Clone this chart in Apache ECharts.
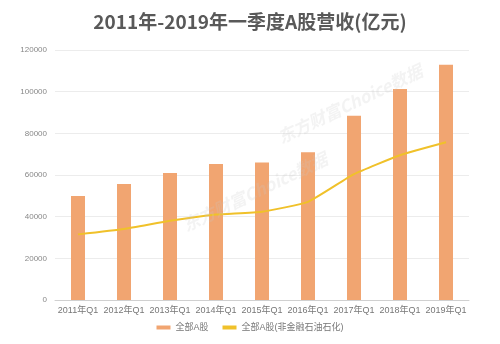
<!DOCTYPE html>
<html>
<head>
<meta charset="utf-8">
<script src="https://cdn.jsdelivr.net/npm/echarts@6/dist/echarts.min.js"></script>
<style>
html,body{margin:0;padding:0;background:#fff;}
#chart{width:500px;height:344px;}
</style>
</head>
<body>
<div id="chart"></div>
<script>
// Q1 operating revenue of A-share companies, 100 million yuan
const categories = ['2011年Q1','2012年Q1','2013年Q1','2014年Q1','2015年Q1','2016年Q1','2017年Q1','2018年Q1','2019年Q1'];
const allAShares = [49900, 55700, 61000, 65300, 66000, 70900, 88500, 101300, 112900];
const exFinancePetro = [31500, 34100, 38000, 41000, 42400, 47100, 60400, 69500, 75700];
const yTicks = [0, 20000, 40000, 60000, 80000, 100000, 120000];

const titleFont = '"Microsoft YaHei","Noto Sans CJK SC",sans-serif';
const labelFont = '"Liberation Sans","Noto Sans CJK SC",sans-serif';
const chart = echarts.init(document.getElementById('chart'));

const watermark = (left, top) => ({
  type: 'text', left, top, rotation: Math.PI / 7, z: 100, silent: true,
  style: { text: '东方财富Choice数据', fontFamily: titleFont, fontSize: 17, fontWeight: 'bold',
           fontStyle: 'italic', fill: 'rgba(200,200,200,0.22)' }
});

chart.setOption({
  backgroundColor: '#fff',
  animation: false,
  title: {
    text: '2011年-2019年一季度A股营收(亿元)',
    left: 'center',
    top: 7,
    textStyle: { fontFamily: titleFont, fontSize: 19, fontWeight: 'bold', color: '#595959' }
  },
  legend: {
    bottom: 7,
    left: 'center',
    itemGap: 14,
    itemWidth: 14,
    itemHeight: 4,
    textStyle: { fontFamily: labelFont, fontSize: 9, color: '#777' },
    data: [
      { name: '全部A股', icon: 'rect' },
      { name: '全部A股(非金融石油石化)', icon: 'rect', itemStyle: { color: '#f0c12a' } }
    ]
  },
  grid: { left: 55, right: 31, top: 50, bottom: 44 },
  xAxis: {
    type: 'category',
    data: categories,
    axisTick: { show: false },
    axisLine: { lineStyle: { color: '#d0d0d0' } },
    axisLabel: { fontFamily: labelFont, fontSize: 9, color: '#777', margin: 6, interval: 0 }
  },
  yAxis: {
    type: 'value',
    min: yTicks[0],
    max: yTicks[yTicks.length - 1],
    interval: 20000,
    axisLine: { show: false },
    axisTick: { show: false },
    splitLine: { lineStyle: { color: '#ececec' } },
    axisLabel: { fontFamily: labelFont, fontSize: 8, color: '#888', margin: 8,
                 formatter: v => String(v) }
  },
  series: [
    {
      name: '全部A股',
      type: 'bar',
      data: allAShares,
      barWidth: 14,
      itemStyle: { color: '#f1a571' }
    },
    {
      name: '全部A股(非金融石油石化)',
      type: 'line',
      data: exFinancePetro,
      symbol: 'none',
      smooth: 0.15,
      lineStyle: { color: '#f0c12a', width: 2 },
      itemStyle: { color: '#f0c12a' }
    }
  ],
  graphic: [watermark(180, 150), watermark(275, 62)]
});
</script>
</body>
</html>
